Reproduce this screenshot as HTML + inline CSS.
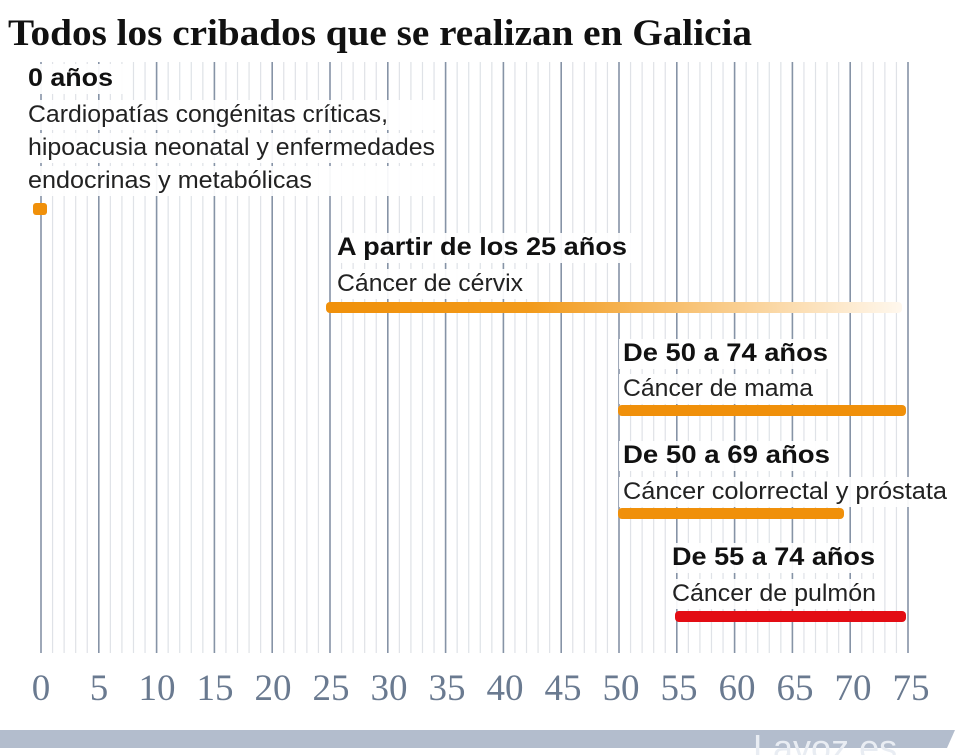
<!DOCTYPE html>
<html><head><meta charset="utf-8"><style>
body{margin:0;background:#fff;}
svg{display:block;}
.b{font-family:"Liberation Sans",sans-serif;font-weight:bold;font-size:25px;fill:#111;}
.r{font-family:"Liberation Sans",sans-serif;font-size:24px;fill:#222;}
.t{font-family:"Liberation Serif",serif;font-size:37px;fill:#6a7a90;text-anchor:middle;}
</style></head><body>
<svg width="960" height="755" viewBox="0 0 960 755" xmlns="http://www.w3.org/2000/svg">
<defs>
<linearGradient id="g" x1="0" x2="1" y1="0" y2="0">
<stop offset="0" stop-color="#f0900a"/><stop offset="0.35" stop-color="#f29a1a"/><stop offset="1" stop-color="#fff8ee"/>
</linearGradient>
</defs>
<text x="8" y="45" font-family="Liberation Serif,serif" font-weight="bold" font-size="37" fill="#111" textLength="744" lengthAdjust="spacingAndGlyphs">Todos los cribados que se realizan en Galicia</text>
<g stroke="#dfe2e7" stroke-width="1.2">
<line x1="52.56" x2="52.56" y1="62" y2="653"/><line x1="64.12" x2="64.12" y1="62" y2="653"/><line x1="75.68" x2="75.68" y1="62" y2="653"/><line x1="87.24" x2="87.24" y1="62" y2="653"/>
<line x1="110.36" x2="110.36" y1="62" y2="653"/><line x1="121.92" x2="121.92" y1="62" y2="653"/><line x1="133.48" x2="133.48" y1="62" y2="653"/><line x1="145.04" x2="145.04" y1="62" y2="653"/>
<line x1="168.16" x2="168.16" y1="62" y2="653"/><line x1="179.72" x2="179.72" y1="62" y2="653"/><line x1="191.28" x2="191.28" y1="62" y2="653"/><line x1="202.84" x2="202.84" y1="62" y2="653"/>
<line x1="225.96" x2="225.96" y1="62" y2="653"/><line x1="237.52" x2="237.52" y1="62" y2="653"/><line x1="249.08" x2="249.08" y1="62" y2="653"/><line x1="260.64" x2="260.64" y1="62" y2="653"/>
<line x1="283.76" x2="283.76" y1="62" y2="653"/><line x1="295.32" x2="295.32" y1="62" y2="653"/><line x1="306.88" x2="306.88" y1="62" y2="653"/><line x1="318.44" x2="318.44" y1="62" y2="653"/>
<line x1="341.56" x2="341.56" y1="62" y2="653"/><line x1="353.12" x2="353.12" y1="62" y2="653"/><line x1="364.68" x2="364.68" y1="62" y2="653"/><line x1="376.24" x2="376.24" y1="62" y2="653"/>
<line x1="399.36" x2="399.36" y1="62" y2="653"/><line x1="410.92" x2="410.92" y1="62" y2="653"/><line x1="422.48" x2="422.48" y1="62" y2="653"/><line x1="434.04" x2="434.04" y1="62" y2="653"/>
<line x1="457.16" x2="457.16" y1="62" y2="653"/><line x1="468.72" x2="468.72" y1="62" y2="653"/><line x1="480.28" x2="480.28" y1="62" y2="653"/><line x1="491.84" x2="491.84" y1="62" y2="653"/>
<line x1="514.96" x2="514.96" y1="62" y2="653"/><line x1="526.52" x2="526.52" y1="62" y2="653"/><line x1="538.08" x2="538.08" y1="62" y2="653"/><line x1="549.64" x2="549.64" y1="62" y2="653"/>
<line x1="572.76" x2="572.76" y1="62" y2="653"/><line x1="584.32" x2="584.32" y1="62" y2="653"/><line x1="595.88" x2="595.88" y1="62" y2="653"/><line x1="607.44" x2="607.44" y1="62" y2="653"/>
<line x1="630.56" x2="630.56" y1="62" y2="653"/><line x1="642.12" x2="642.12" y1="62" y2="653"/><line x1="653.68" x2="653.68" y1="62" y2="653"/><line x1="665.24" x2="665.24" y1="62" y2="653"/>
<line x1="688.36" x2="688.36" y1="62" y2="653"/><line x1="699.92" x2="699.92" y1="62" y2="653"/><line x1="711.48" x2="711.48" y1="62" y2="653"/><line x1="723.04" x2="723.04" y1="62" y2="653"/>
<line x1="746.16" x2="746.16" y1="62" y2="653"/><line x1="757.72" x2="757.72" y1="62" y2="653"/><line x1="769.28" x2="769.28" y1="62" y2="653"/><line x1="780.84" x2="780.84" y1="62" y2="653"/>
<line x1="803.96" x2="803.96" y1="62" y2="653"/><line x1="815.52" x2="815.52" y1="62" y2="653"/><line x1="827.08" x2="827.08" y1="62" y2="653"/><line x1="838.64" x2="838.64" y1="62" y2="653"/>
<line x1="861.76" x2="861.76" y1="62" y2="653"/><line x1="873.32" x2="873.32" y1="62" y2="653"/><line x1="884.88" x2="884.88" y1="62" y2="653"/><line x1="896.44" x2="896.44" y1="62" y2="653"/>
</g>
<g stroke="#8693a6" stroke-width="1.6">
<line x1="41" x2="41" y1="62" y2="653"/><line x1="98.8" x2="98.8" y1="62" y2="653"/><line x1="156.6" x2="156.6" y1="62" y2="653"/><line x1="214.4" x2="214.4" y1="62" y2="653"/>
<line x1="272.2" x2="272.2" y1="62" y2="653"/><line x1="330" x2="330" y1="62" y2="653"/><line x1="387.8" x2="387.8" y1="62" y2="653"/><line x1="445.6" x2="445.6" y1="62" y2="653"/>
<line x1="503.4" x2="503.4" y1="62" y2="653"/><line x1="561.2" x2="561.2" y1="62" y2="653"/><line x1="619" x2="619" y1="62" y2="653"/><line x1="676.8" x2="676.8" y1="62" y2="653"/>
<line x1="734.6" x2="734.6" y1="62" y2="653"/><line x1="792.4" x2="792.4" y1="62" y2="653"/><line x1="850.2" x2="850.2" y1="62" y2="653"/><line x1="908" x2="908" y1="62" y2="653"/>
</g>
<g fill="rgba(255,255,255,0.93)">
<rect x="24" y="64" width="102" height="30"/>
<rect x="24" y="100" width="420" height="30"/>
<rect x="24" y="133" width="420" height="30"/>
<rect x="24" y="166" width="420" height="30"/>
<rect x="333" y="233" width="300" height="30"/>
<rect x="333" y="269" width="195" height="30"/>
<rect x="619" y="339" width="214" height="30"/>
<rect x="619" y="374" width="200" height="30"/>
<rect x="619" y="441" width="214" height="30"/>
<rect x="619" y="477" width="332" height="30"/>
<rect x="668" y="543" width="214" height="30"/>
<rect x="668" y="579" width="212" height="30"/>
</g>
<text class="b" x="28" y="86" textLength="85" lengthAdjust="spacingAndGlyphs">0 años</text>
<text class="r" x="28" y="122" textLength="360" lengthAdjust="spacingAndGlyphs">Cardiopatías congénitas críticas,</text>
<text class="r" x="28" y="155" textLength="407" lengthAdjust="spacingAndGlyphs">hipoacusia neonatal y enfermedades</text>
<text class="r" x="28" y="188" textLength="284" lengthAdjust="spacingAndGlyphs">endocrinas y metabólicas</text>
<text class="b" x="337" y="255" textLength="290" lengthAdjust="spacingAndGlyphs">A partir de los 25 años</text>
<text class="r" x="337" y="291" textLength="186" lengthAdjust="spacingAndGlyphs">Cáncer de cérvix</text>
<text class="b" x="623" y="361" textLength="205" lengthAdjust="spacingAndGlyphs">De 50 a 74 años</text>
<text class="r" x="623" y="396" textLength="190" lengthAdjust="spacingAndGlyphs">Cáncer de mama</text>
<text class="b" x="623" y="463" textLength="207" lengthAdjust="spacingAndGlyphs">De 50 a 69 años</text>
<text class="r" x="623" y="499" textLength="324" lengthAdjust="spacingAndGlyphs">Cáncer colorrectal y próstata</text>
<text class="b" x="672" y="565" textLength="203" lengthAdjust="spacingAndGlyphs">De 55 a 74 años</text>
<text class="r" x="672" y="601" textLength="204" lengthAdjust="spacingAndGlyphs">Cáncer de pulmón</text>
<rect x="33" y="203" width="14" height="12" rx="3" fill="#f0900a"/>
<rect x="326" y="302" width="576" height="11" rx="4" fill="url(#g)"/>
<rect x="618" y="405" width="288" height="11" rx="4" fill="#f0900a"/>
<rect x="618" y="508" width="226" height="11" rx="4" fill="#f0900a"/>
<rect x="675" y="611" width="231" height="11" rx="4" fill="#e30d14"/>
<g class="t">
<text x="41" y="700">0</text><text x="99" y="700">5</text><text x="157" y="700">10</text><text x="215" y="700">15</text><text x="273" y="700">20</text><text x="331" y="700">25</text><text x="389" y="700">30</text><text x="447" y="700">35</text><text x="505" y="700">40</text><text x="563" y="700">45</text><text x="621" y="700">50</text><text x="679" y="700">55</text><text x="737" y="700">60</text><text x="795" y="700">65</text><text x="853" y="700">70</text><text x="911" y="700">75</text>
</g>
<polygon points="0,730 955,730 947,748 0,748" fill="#b3bdcd"/>
<clipPath id="c"><rect x="0" y="728" width="960" height="27"/></clipPath>
<text x="753" y="760" clip-path="url(#c)" font-family="Liberation Sans,sans-serif" font-size="36" fill="#e9edf3">Lavoz.es</text>
</svg>
</body></html>
